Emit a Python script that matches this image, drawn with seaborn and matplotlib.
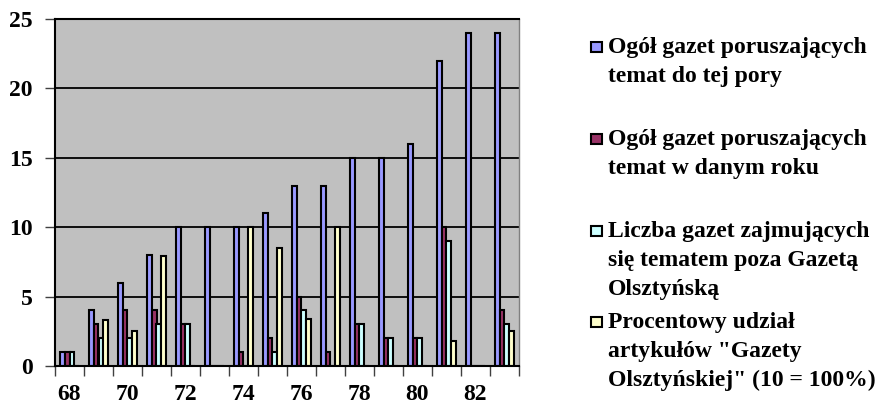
import matplotlib
matplotlib.use("Agg")
import pandas as pd
import matplotlib.pyplot as plt
import seaborn as sns
from matplotlib.patches import Rectangle

# --- dane ---
lata = ['68', '69', '70', '71', '72', '73', '74', '75',
        '76', '77', '78', '79', '80', '81', '82', '83']
do_tej_pory = [1, 4, 6, 8, 10, 10, 10, 11, 13, 13, 15, 15, 16, 22, 24, 24]
w_danym_roku = [1, 3, 4, 4, 3, 0, 1, 2, 5, 1, 3, 2, 2, 10, 0, 4]
poza_go = [1, 2, 2, 3, 3, 0, 0, 1, 4, 0, 3, 2, 2, 9, 0, 3]
procent_go = [0, 3.3, 2.5, 7.9, 0, 0, 10, 8.5, 3.4, 10, 0, 0, 0, 1.8, 0, 2.5]

serie = ["do_tej_pory", "w_danym_roku", "poza_go", "procent_go"]
kolory = ["#9999FF", "#993366", "#CCFFFF", "#FFFFCC"]
legenda = [
    ["Ogół gazet poruszających", "temat do tej pory"],
    ["Ogół gazet poruszających", "temat w danym roku"],
    ["Liczba gazet zajmujących", "się tematem poza Gazetą", "Olsztyńską"],
    ["Procentowy udział", "artykułów \"Gazety", "Olsztyńskiej\" (10 = 100%)"],
]

wartosci = [do_tej_pory, w_danym_roku, poza_go, procent_go]
df = pd.DataFrame([
    {"rok": rok, "seria": s, "liczba": v}
    for s, vals in zip(serie, wartosci)
    for rok, v in zip(lata, vals)
])

plt.rcParams['font.family'] = ['Liberation Serif', 'DejaVu Serif']
plt.rcParams['font.weight'] = 'bold'

W, H = 876, 404
fig = plt.figure(figsize=(W / 100, H / 100), dpi=100)
ax = fig.add_axes([55 / W, 1 - 366 / H, (519 - 55) / W, (366 - 19) / H])
ax.set_facecolor("#C0C0C0")

sns.barplot(data=df, x="rok", y="liczba", hue="seria", order=lata,
            hue_order=serie, palette=kolory, saturation=1, width=0.68,
            edgecolor="black", linewidth=1.5, legend=False, ax=ax)

ax.set_xlim(-0.5, len(lata) - 0.5)
ax.set_ylim(0, 25)
ax.set_yticks([0, 5, 10, 15, 20, 25])
ax.set_axisbelow(True)
ax.yaxis.grid(True, color="black", linewidth=1.3)
ax.xaxis.grid(False)
ax.set_xlabel("")
ax.set_ylabel("")

ax.set_xticks(range(0, len(lata), 2))
ax.set_xticklabels(lata[::2])
ax.set_xticks([i - 0.5 for i in range(len(lata) + 1)], minor=True)
ax.tick_params(axis="x", which="major", length=0, pad=13, labelsize=17)
ax.tick_params(axis="x", which="minor", length=7, width=1, color="#404040")
ax.tick_params(axis="y", length=7, width=1, color="#404040", pad=9, labelsize=17)

for side in ["left", "bottom", "top"]:
    ax.spines[side].set_color("black")
    ax.spines[side].set_linewidth(1.5)
ax.spines["right"].set_color("#808080")
ax.spines["right"].set_linewidth(1)

# --- legenda ---
starty = [53, 145, 237, 328]
for kolor, linie, y0 in zip(kolory, legenda, starty):
    fig.patches.append(Rectangle((591 / W, 1 - (y0 - 1) / H), 11 / W, 10 / H,
                                 transform=fig.transFigure, facecolor=kolor,
                                 edgecolor="black", linewidth=1.5))
    for i, linia in enumerate(linie):
        fig.text(608 / W, 1 - (y0 + i * 29) / H, linia, fontsize=17,
                 fontweight="bold", va="baseline", ha="left")

fig.savefig("out.png", dpi=100)
